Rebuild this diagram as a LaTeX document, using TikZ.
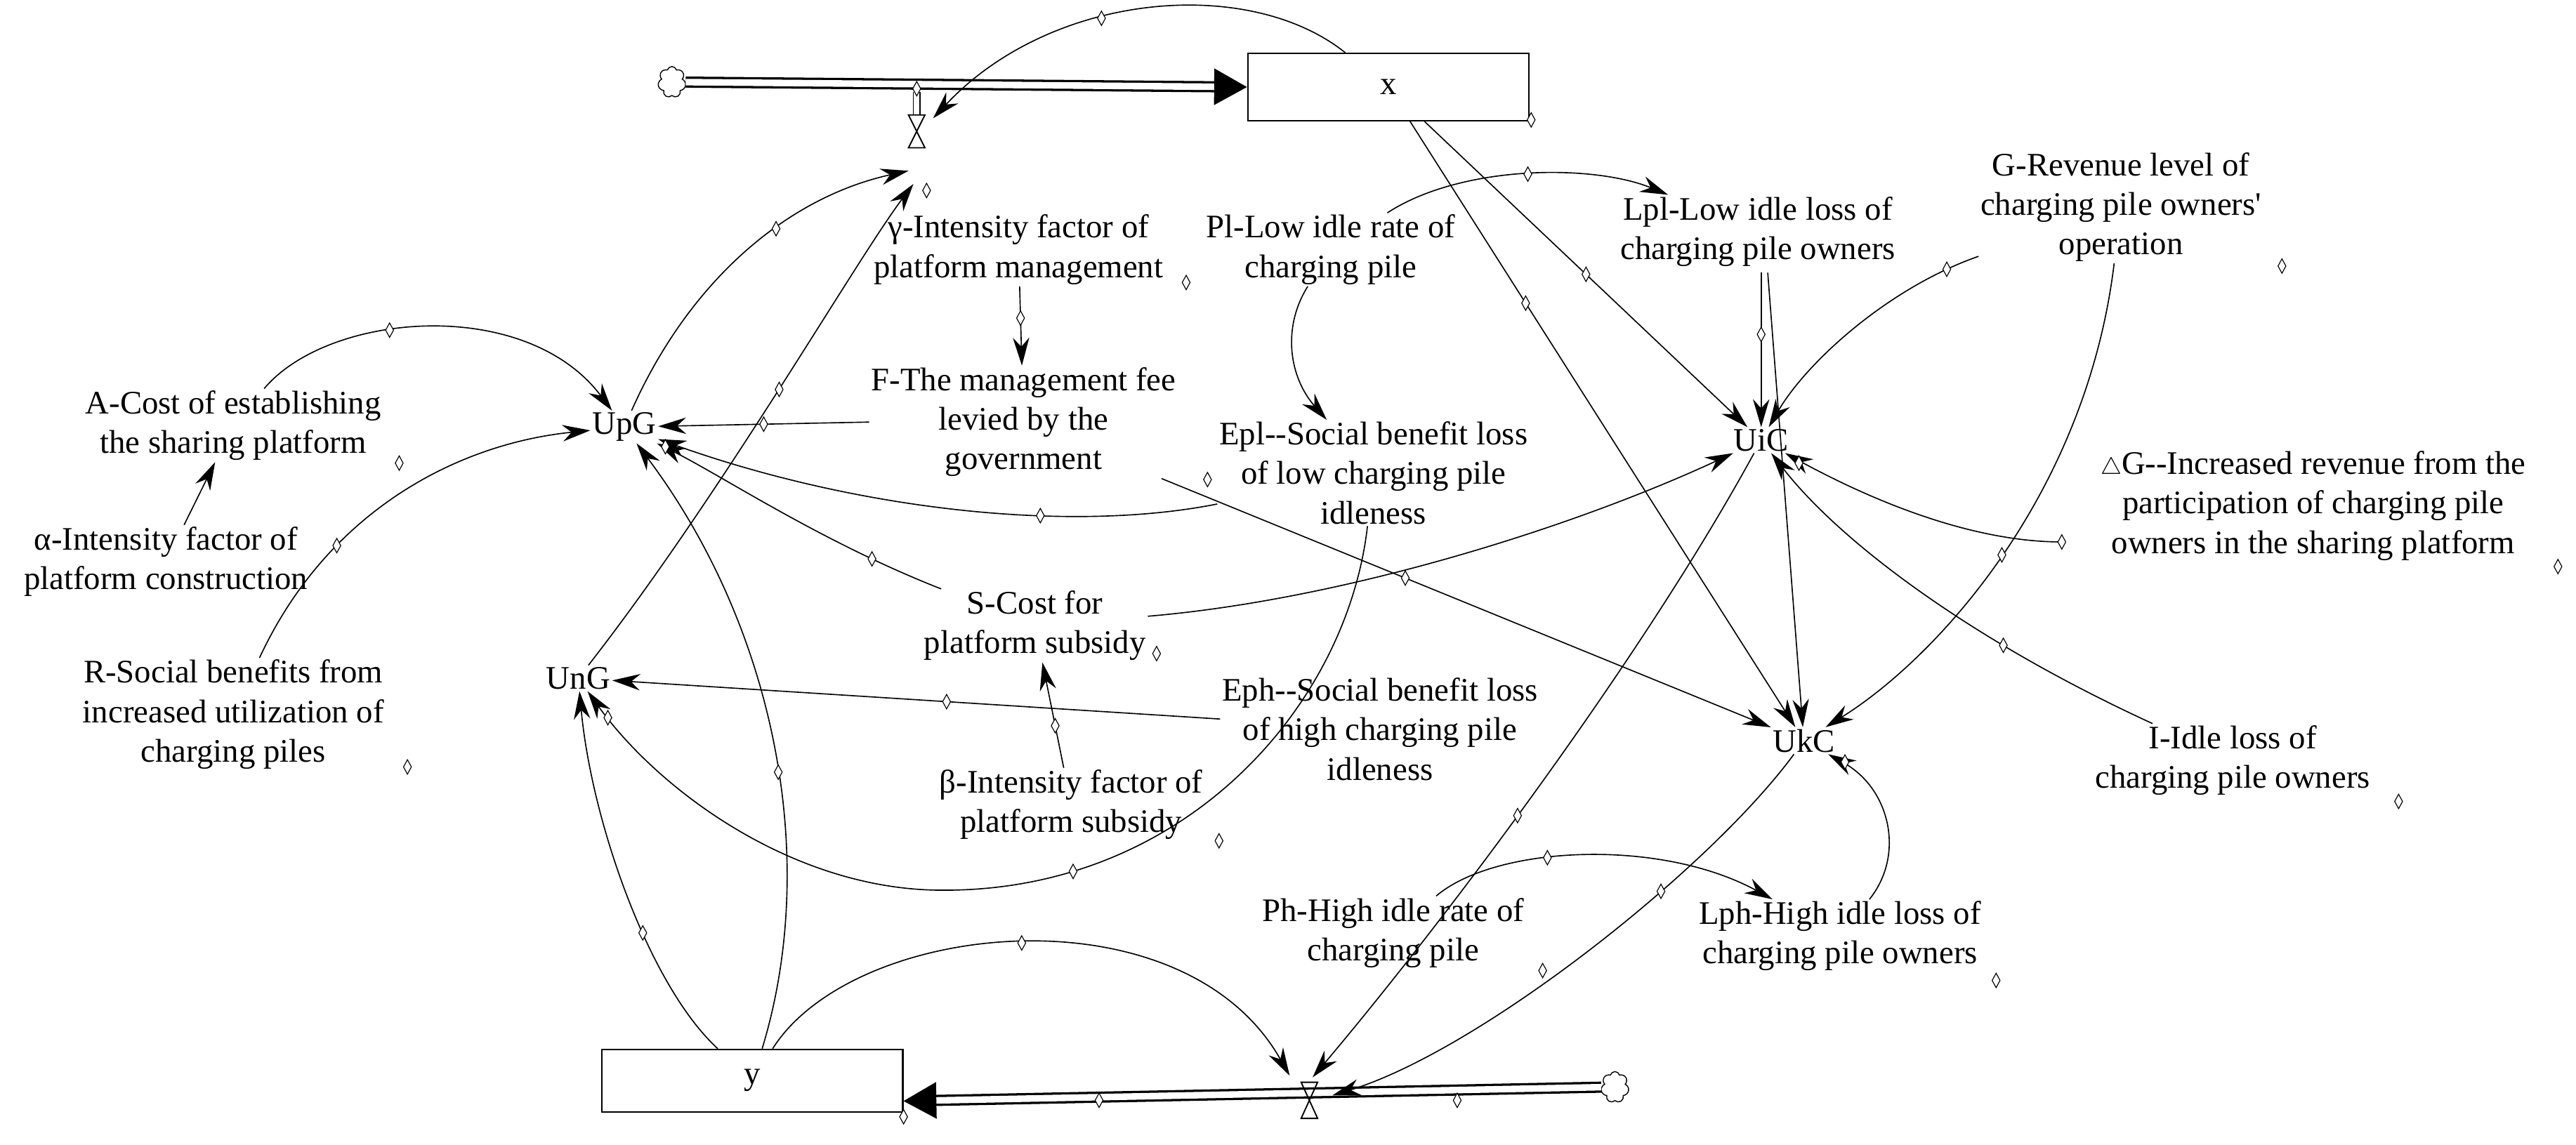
\documentclass[tikz,border=0pt]{standalone}
\usepackage{fontspec}
\setmainfont{Liberation Serif}
\usetikzlibrary{arrows.meta,shapes.geometric,shapes.symbols,calc}
\begin{document}
\begin{tikzpicture}[x=1pt,y=-1pt,
 var/.style={align=center,inner sep=1pt,font=\fontsize{20}{24}\selectfont},
 lk/.style={line width=0.7pt,-{Stealth[length=17pt,width=10pt]}},
 hd/.style={draw,diamond,aspect=0.55,fill=white,inner sep=0pt,minimum width=5pt,minimum height=9pt,line width=0.5pt},
 stock/.style={draw,line width=0.9pt,inner sep=0pt,font=\fontsize{20}{24}\selectfont},
 pipe/.style={double,double distance=4pt,line width=1.4pt,-{Triangle[length=20pt,width=22pt]}},
 cl/.style={draw,cloud,cloud puffs=7,aspect=0.8,minimum width=17pt,minimum height=19pt,inner sep=0pt,line width=0.6pt}]
\useasboundingbox (0,0) rectangle (1568,697);
% stocks and clouds
\node[stock,minimum width=171pt,minimum height=41pt] (x) at (845,53) {x};
\node[stock,minimum width=183pt,minimum height=38pt] (y) at (458,658) {y};
\node[cl] (c1) at (409,50) {};
\node[cl] (c2) at (983,662) {};
\coordinate (a1) at (553,104);
\coordinate (a1b) at (556,112);
\coordinate (vt1) at (568,72);
\coordinate (vt2a) at (785,655);
\coordinate (vt2b) at (799,656);
\coordinate (vt2c) at (811,667);
% pipes
\draw[pipe] (c1.east) -- (x.west);
\draw[pipe] (c2.west) -- ($(y.south east)+(0,-7)$);
\draw[line width=0.6pt] (556,56)--(556,70) (560,56)--(560,70);
\draw[line width=0.8pt] (553,70)--(563,70)--(558,80)--cycle (558,80)--(553,90)--(563,90)--cycle;
\draw[line width=0.8pt] (792,659)--(802,659)--(797,670)--cycle (797,670)--(792,681)--(802,681)--cycle;
% variables
\node[var] (gam) at (620,152) {γ-Intensity factor of\\platform management};
\node[var] (F) at (623,257) {F-The management fee\\levied by the\\government};
\node[var] (Pl) at (810,152) {Pl-Low idle rate of\\charging pile};
\node[var] (Lpl) at (1070,141) {Lpl-Low idle loss of\\charging pile owners};
\node[var] (G) at (1291,126) {G-Revenue level of\\charging pile owners\textquotesingle\\operation};
\node[var] (A) at (142,259) {A-Cost of establishing\\the sharing platform};
\node[var] (al) at (101,342) {α-Intensity factor of\\platform construction};
\node[var] (R) at (142,435) {R-Social benefits from\\increased utilization of\\charging piles};
\node[var] (UpG) at (380,260) {UpG};
\node[var] (UnG) at (352,413) {UnG};
\node[var] (S) at (630,381) {S-Cost for\\platform subsidy};
\node[var] (Epl) at (836,288) {Epl-{}-Social benefit loss\\of low charging pile\\idleness};
\node[var] (Eph) at (840,444) {Eph-{}-Social benefit loss\\of high charging pile\\idleness};
\node[var] (be) at (652,490) {β-Intensity factor of\\platform subsidy};
\node[var] (UiC) at (1072,268) {UiC};
\node[var] (UkC) at (1098,451) {UkC};
\node[var] (DG) at (1408,308) {$\scriptstyle\triangle$G-{}-Increased revenue from the\\participation of charging pile\\owners in the sharing platform};
\node[var] (I) at (1359,463) {I-Idle loss of\\charging pile owners};
\node[var] (Ph) at (848,568) {Ph-High idle rate of\\charging pile};
\node[var] (Lph) at (1120,570) {Lph-High idle loss of\\charging pile owners};
% connectors
\draw[lk] (x) .. controls (760,-15) and (640,-5) .. (vt1) node[hd,pos=.6]{};
\draw[lk] (UpG) .. controls (420,170) and (480,120) .. (a1) node[hd,pos=.6]{};
\draw[lk] (UnG) .. controls (440,300) and (520,160) .. (a1b) node[hd,pos=.5]{};
\draw[lk] (gam) -- (F) node[hd,pos=.4]{};
\draw[lk] (F.west) -- (UpG) node[hd,pos=.5]{};
\draw[lk] (A) .. controls (200,190) and (320,180) .. (UpG) node[hd,pos=.4]{};
\draw[lk] (al) -- (A);
\draw[lk] (R) .. controls (200,310) and (280,270) .. (UpG) node[hd,pos=.3]{};
\draw[lk] (Epl) .. controls (650,325) and (520,310) .. (UpG) node[hd,pos=.35]{};
\draw[lk] (S) .. controls (500,330) and (440,290) .. (UpG) node[hd,pos=.2]{};
\draw[lk] (y) .. controls (500,520) and (470,380) .. (UpG) node[hd,pos=.45]{};
\draw[lk] (y) .. controls (395,600) and (360,500) .. (UnG) node[hd,pos=.4]{};
\draw[lk] (y) .. controls (520,560) and (720,540) .. (vt2a) node[hd,pos=.5]{};
\draw[lk] (Epl) .. controls (820,430) and (720,545) .. (569,542) node[hd,pos=.8]{} .. controls (480,540) and (400,480) .. (UnG);
\draw[lk] (Eph) -- (UnG) node[hd,pos=.45]{};
\draw[lk] (be) -- (S) node[hd,pos=.4]{};
\draw[lk] (S) .. controls (820,365) and (960,320) .. (UiC);
\draw[lk] (x) -- (UiC) node[hd,pos=.5]{};
\draw[lk] (x) -- (UkC) node[hd,pos=.3]{};
\draw[lk] (Pl) .. controls (780,200) and (785,230) .. (Epl);
\draw[lk] (Pl) .. controls (890,100) and (970,100) .. (Lpl) node[hd,pos=.5]{};
\draw[lk] (1072,166) -- (UiC) node[hd,pos=.4]{};
\draw[lk] (1076,166) -- (UkC);
\draw[lk] (G) .. controls (1150,175) and (1100,220) .. (UiC) node[hd,pos=.12]{};
\draw[lk] (G) .. controls (1270,300) and (1180,400) .. (UkC) node[hd,pos=.5]{};
\draw[lk] (1255,330) .. controls (1200,330) and (1140,305) .. (UiC) node[hd,pos=0]{};
\draw[lk] (I) .. controls (1200,390) and (1120,330) .. (UiC) node[hd,pos=.3]{};
\draw[lk] (F) -- (UkC) node[hd,pos=.4]{};
\draw[lk] (UiC) .. controls (1000,400) and (880,560) .. (vt2b) node[hd,pos=.55]{};
\draw[lk] (UkC) .. controls (1040,530) and (900,640) .. (vt2c) node[hd,pos=.35]{};
\draw[lk] (Ph) .. controls (910,515) and (1010,510) .. (Lph) node[hd,pos=.4]{};
\draw[lk] (Lph) .. controls (1160,520) and (1150,480) .. (UkC);
% name handles
\foreach \p in {(722,172),(243,282),(248,467),(704,398),(735,292),(742,512),(1389,162),(1557,345),(1460,488),(1215,597),(932,73),(550,680),(370,437),(1095,282),(1123,464),(405,272),(564,116),(939,591),(669,670),(887,670),(558,54)}
  \node[hd] at \p {};
\end{tikzpicture}
\end{document}
